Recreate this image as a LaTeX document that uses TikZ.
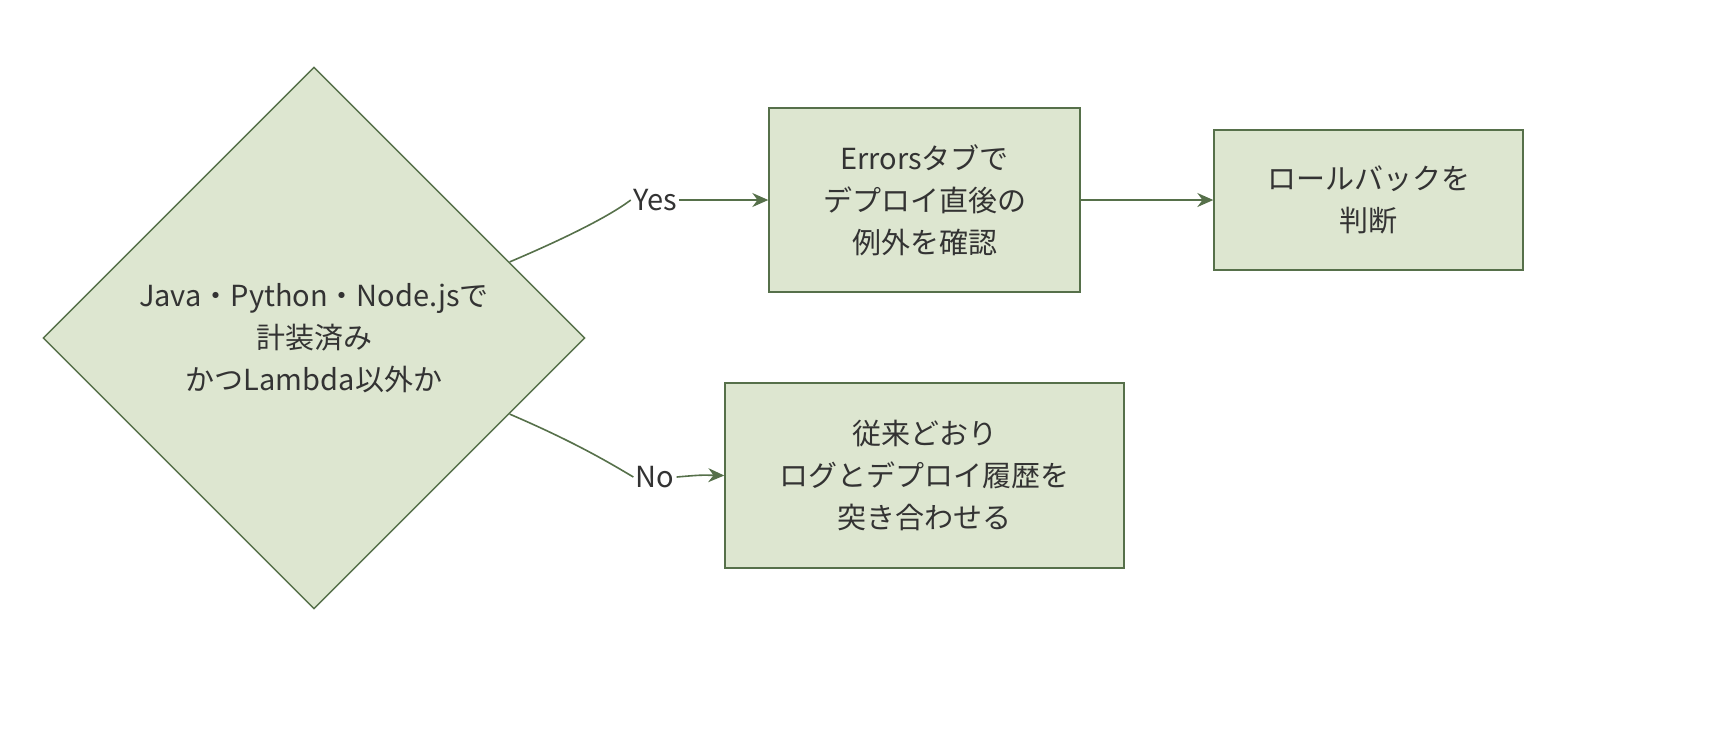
\documentclass[tikz,border=0pt]{standalone}
\usepackage{fontspec}
\setmainfont{Noto Sans CJK JP}
\usetikzlibrary{arrows.meta,positioning,calc,shapes.geometric}
\definecolor{boxfill}{HTML}{DDE6D0}
\definecolor{boxline}{HTML}{56704A}
\definecolor{txt}{HTML}{333333}
\tikzset{
    >={Stealth[length=8pt,width=7pt]},
    task/.style={rectangle,draw=boxline,fill=boxfill,line width=0.7pt,text=txt,
        align=center,inner sep=0pt,font=\fontsize{14.5}{21}\selectfont},
    decide/.style={diamond,draw=boxline,fill=boxfill,line width=0.7pt,text=txt,
        align=center,inner sep=0pt,minimum width=271pt,minimum height=271pt,
        font=\fontsize{14.5}{21}\selectfont},
    flow/.style={->,draw=boxline,line width=0.8pt},
    tag/.style={fill=white,text=txt,inner sep=1pt,font=\fontsize{14.5}{17}\selectfont}
}
\begin{document}
\begin{tikzpicture}[x=0.5pt,y=-0.5pt]
        \useasboundingbox (0,0) rectangle (1732,752);

        % decision and steps
        \node[decide] (check) at (314,338) {Java・Python・Node.jsで\\計装済み\\かつLambda以外か};
        \node[task,minimum width=155.5pt,minimum height=92pt] (errors) at (924.5,200) {Errorsタブで\\デプロイ直後の\\例外を確認};
        \node[task,minimum width=154.5pt,minimum height=70pt] (rollback) at (1368.5,200) {ロールバックを\\判断};
        \node[task,minimum width=199.5pt,minimum height=92.5pt] (legacy) at (924.5,475.5) {従来どおり\\ログとデプロイ履歴を\\突き合わせる};

        % connectors
        \coordinate (yesstart) at ($(check.east)!0.28!(check.north)$);
        \coordinate (nostart) at ($(check.east)!0.28!(check.south)$);
        \node[tag] (yes) at (655,200) {Yes};
        \node[tag] (no) at (655,477) {No};
        \draw[boxline,line width=0.8pt] (yesstart) .. controls (580,232) and (615,212) .. (yes.west);
        \draw[flow] (yes.east) .. controls (710,200) .. (errors.west);
        \draw[boxline,line width=0.8pt] (nostart) .. controls (570,440) and (605,460) .. (no.west);
        \draw[flow] (no.east) .. controls (700,475) .. (legacy.west);
        \draw[flow] (errors.east) -- (rollback.west);
    \end{tikzpicture}
\end{document}
